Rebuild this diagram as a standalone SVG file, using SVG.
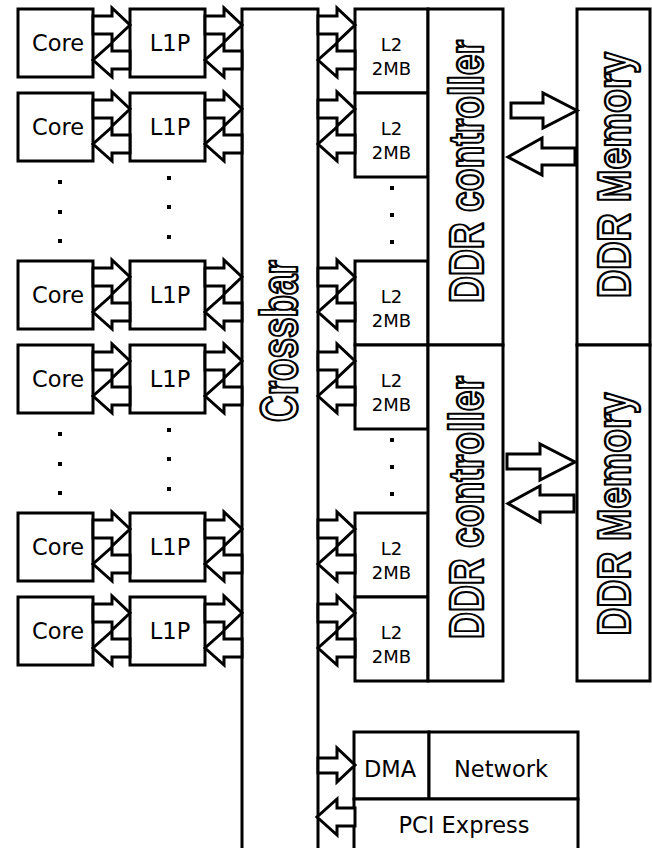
<svg xmlns="http://www.w3.org/2000/svg" xmlns:xlink="http://www.w3.org/1999/xlink" width="652" height="848" viewBox="0 0 652 848">
<style>
.box{fill:#fff;stroke:#000;stroke-width:3}
.arr{fill:#fff;stroke:#000;stroke-width:3;stroke-linejoin:miter}
.lbl{font-family:"DejaVu Sans","Verdana",sans-serif;font-size:22.5px;fill:#000;text-anchor:middle}
.sm{font-family:"DejaVu Sans","Verdana",sans-serif;font-size:18px;fill:#000;text-anchor:middle}
.out{font-family:"Liberation Sans",Arial,sans-serif;font-weight:bold;fill:#fff;stroke:#000;stroke-width:2.2;stroke-linejoin:round;text-anchor:middle;vector-effect:non-scaling-stroke}
.dot{fill:#000}
</style>
<defs>
<g id="pair">
<polygon class="arr" points="0,7 19,7 19,-1 37,16 19,33 19,25 0,25"/>
<polygon class="arr" points="37,42 19,42 19,34 0,51 19,68 19,60 37,60"/>
</g>
</defs>
<rect width="652" height="848" fill="#fff"/>

<g id="crossbar">
<rect class="box" x="242" y="9" width="76" height="860"/>
<text class="out" font-size="51" textLength="224" lengthAdjust="spacingAndGlyphs" transform="translate(297,341) rotate(-90) scale(0.723,1)">Crossbar</text>
</g>

<g id="cores">
<g id="core1"><rect class="box" x="18" y="9" width="75" height="68"/><text class="lbl" x="58" y="51">Core</text></g>
<g id="core2"><rect class="box" x="18" y="93" width="75" height="68"/><text class="lbl" x="58" y="135">Core</text></g>
<g id="core3"><rect class="box" x="18" y="261" width="75" height="68"/><text class="lbl" x="58" y="303">Core</text></g>
<g id="core4"><rect class="box" x="18" y="345" width="75" height="68"/><text class="lbl" x="58" y="387">Core</text></g>
<g id="core5"><rect class="box" x="18" y="513" width="75" height="68"/><text class="lbl" x="58" y="555">Core</text></g>
<g id="core6"><rect class="box" x="18" y="597" width="75" height="68"/><text class="lbl" x="58" y="639">Core</text></g>
</g>

<g id="l1ps">
<g id="l1p1"><rect class="box" x="130" y="9" width="75" height="68"/><text class="lbl" x="170" y="51">L1P</text></g>
<g id="l1p2"><rect class="box" x="130" y="93" width="75" height="68"/><text class="lbl" x="170" y="135">L1P</text></g>
<g id="l1p3"><rect class="box" x="130" y="261" width="75" height="68"/><text class="lbl" x="170" y="303">L1P</text></g>
<g id="l1p4"><rect class="box" x="130" y="345" width="75" height="68"/><text class="lbl" x="170" y="387">L1P</text></g>
<g id="l1p5"><rect class="box" x="130" y="513" width="75" height="68"/><text class="lbl" x="170" y="555">L1P</text></g>
<g id="l1p6"><rect class="box" x="130" y="597" width="75" height="68"/><text class="lbl" x="170" y="639">L1P</text></g>
</g>

<g id="l2s">
<g id="l2a"><rect class="box" x="355" y="9" width="73" height="84"/><text class="sm" x="391.5" y="51">L2</text><text class="sm" x="391.5" y="75">2MB</text></g>
<g id="l2b"><rect class="box" x="355" y="93" width="73" height="84"/><text class="sm" x="391.5" y="135">L2</text><text class="sm" x="391.5" y="159">2MB</text></g>
<g id="l2c"><rect class="box" x="355" y="261" width="73" height="84"/><text class="sm" x="391.5" y="303">L2</text><text class="sm" x="391.5" y="327">2MB</text></g>
<g id="l2d"><rect class="box" x="355" y="345" width="73" height="84"/><text class="sm" x="391.5" y="387">L2</text><text class="sm" x="391.5" y="411">2MB</text></g>
<g id="l2e"><rect class="box" x="355" y="513" width="73" height="84"/><text class="sm" x="391.5" y="555">L2</text><text class="sm" x="391.5" y="579">2MB</text></g>
<g id="l2f"><rect class="box" x="355" y="597" width="73" height="84"/><text class="sm" x="391.5" y="639">L2</text><text class="sm" x="391.5" y="663">2MB</text></g>
</g>

<g id="ddrctrl1">
<rect class="box" x="428" y="9" width="75" height="336"/>
<text class="out" font-size="49" textLength="346" lengthAdjust="spacingAndGlyphs" transform="translate(483,171.5) rotate(-90) scale(0.76,1)">DDR controller</text>
</g>
<g id="ddrctrl2">
<rect class="box" x="428" y="345" width="75" height="336"/>
<text class="out" font-size="49" textLength="346" lengthAdjust="spacingAndGlyphs" transform="translate(483,507.5) rotate(-90) scale(0.76,1)">DDR controller</text>
</g>

<g id="ddrmem1">
<rect class="box" x="577" y="9" width="73" height="336"/>
<text class="out" font-size="47" textLength="295" lengthAdjust="spacingAndGlyphs" transform="translate(630,175) rotate(-90) scale(0.834,1)">DDR Memory</text>
</g>
<g id="ddrmem2">
<rect class="box" x="577" y="345" width="73" height="336"/>
<text class="out" font-size="47" textLength="295" lengthAdjust="spacingAndGlyphs" transform="translate(630,514) rotate(-90) scale(0.824,1)">DDR Memory</text>
</g>

<g id="dma"><rect class="box" x="354" y="732" width="75" height="67"/><text class="lbl" x="390" y="777">DMA</text></g>
<g id="network"><rect class="box" x="429" y="732" width="149" height="67"/><text class="lbl" x="501" y="777">Network</text></g>
<g id="pcie"><rect class="box" x="354" y="799" width="224" height="70"/><text class="lbl" x="464" y="833">PCI Express</text></g>

<g id="dots">
<rect class="dot" x="58" y="180" width="4" height="4"/>
<rect class="dot" x="58" y="210" width="4" height="4"/>
<rect class="dot" x="58" y="239" width="4" height="4"/>
<rect class="dot" x="167" y="176" width="4" height="4"/>
<rect class="dot" x="167" y="205" width="4" height="4"/>
<rect class="dot" x="167" y="235" width="4" height="4"/>
<rect class="dot" x="390" y="186" width="4" height="4"/>
<rect class="dot" x="390" y="213" width="4" height="4"/>
<rect class="dot" x="390" y="240" width="4" height="4"/>
<rect class="dot" x="58" y="432" width="4" height="4"/>
<rect class="dot" x="58" y="462" width="4" height="4"/>
<rect class="dot" x="58" y="491" width="4" height="4"/>
<rect class="dot" x="167" y="428" width="4" height="4"/>
<rect class="dot" x="167" y="457" width="4" height="4"/>
<rect class="dot" x="167" y="487" width="4" height="4"/>
<rect class="dot" x="390" y="438" width="4" height="4"/>
<rect class="dot" x="390" y="465" width="4" height="4"/>
<rect class="dot" x="390" y="492" width="4" height="4"/>
</g>

<g id="connectors">
<use xlink:href="#pair" x="93" y="9"/>
<use xlink:href="#pair" x="93" y="93"/>
<use xlink:href="#pair" x="93" y="261"/>
<use xlink:href="#pair" x="93" y="345"/>
<use xlink:href="#pair" x="93" y="513"/>
<use xlink:href="#pair" x="93" y="597"/>
<use xlink:href="#pair" x="205" y="9"/>
<use xlink:href="#pair" x="205" y="93"/>
<use xlink:href="#pair" x="205" y="261"/>
<use xlink:href="#pair" x="205" y="345"/>
<use xlink:href="#pair" x="205" y="513"/>
<use xlink:href="#pair" x="205" y="597"/>
<use xlink:href="#pair" x="318" y="9"/>
<use xlink:href="#pair" x="318" y="93"/>
<use xlink:href="#pair" x="318" y="261"/>
<use xlink:href="#pair" x="318" y="345"/>
<use xlink:href="#pair" x="318" y="513"/>
<use xlink:href="#pair" x="318" y="597"/>
<polygon class="arr" points="511,103 543,103 543,93 577,110.5 543,128 543,118 511,118"/>
<polygon class="arr" points="575,148 542,148 542,138 508,157 542,175 542,165 575,165"/>
<polygon class="arr" points="507,454 540,454 540,444 575,462 540,480 540,469 507,469"/>
<polygon class="arr" points="574,495 540,495 540,486 508,503.5 540,522 540,512 574,512"/>
<polygon class="arr" points="318,758 337,758 337,748 355,765 337,782 337,773 318,773"/>
<polygon class="arr" points="355,808 337,808 337,799 317,817 337,835 337,826 355,826"/>
</g>
</svg>
